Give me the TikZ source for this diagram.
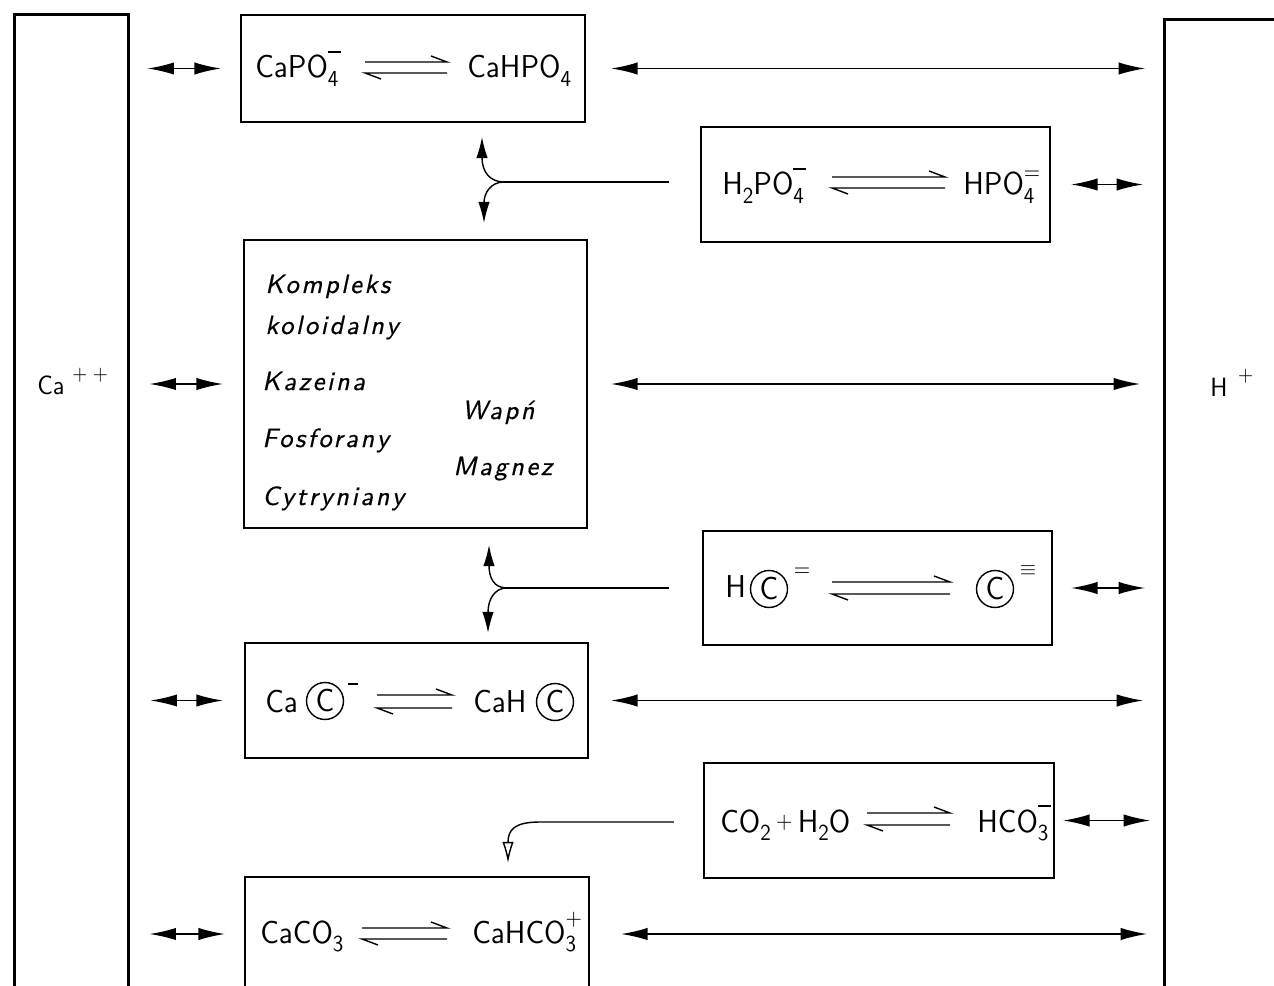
\documentclass[tikz,border=0pt]{standalone}
\usepackage{fontspec}
\newfontfamily\chemf{lmsans10-regular.otf}[FakeStretch=0.92]
\newfontfamily\itf{lmsans10-oblique.otf}[LetterSpace=10,FakeBold=0.6]
\usetikzlibrary{arrows.meta}
\newcommand\chemtext{\chemf\fontsize{18}{20}\selectfont}
\newcommand\ittext{\itf\fontsize{15}{18}\selectfont}
\newcommand\Sb[1]{\raisebox{-0.27em}{\fontsize{13}{13}\selectfont #1}}
\newcommand\SbSp[3][0.5em]{\makebox[0pt][l]{\raisebox{#1}{\fontsize{13}{13}\selectfont #3}}\raisebox{-0.27em}{\fontsize{13}{13}\selectfont #2}}
\newcommand\Mn{\rule{0.55em}{0.08em}}
\newcommand\Harp[4]{%
  \draw[harp] (#1,#3) -- (#2,#3) -- ++(-16,-6);
  \draw[harp] (#2,#4) -- (#1,#4) -- ++(16,6);}
\tikzset{
  box/.style={draw, line width=1.4pt, inner sep=0},
  col/.style={draw, line width=1.5pt, inner sep=0},
  chem/.style={font=\chemtext, inner sep=0, anchor=base west},
  itx/.style={font=\ittext, inner sep=0, anchor=base west},
  lab/.style={font=\chemf\fontsize{15}{18}\selectfont, inner sep=0, anchor=base west},
  supx/.style={font=\chemf\fontsize{13}{13}\selectfont, inner sep=0},
  cc/.style={circle, draw, line width=0.8pt, minimum size=0.74cm, inner sep=0, font=\chemtext},
  harp/.style={line width=0.8pt},
  ln/.style={line width=0.8pt},
  dbl/.style={{Latex[length=15pt,width=7pt]}-{Latex[length=15pt,width=7pt]}, line width=0.8pt},
  fork/.style={-{Latex[length=12pt,width=6.5pt]}, line width=0.8pt},
  forko/.style={-{Latex[length=12pt,width=6.5pt,open]}, line width=0.8pt},
}
\begin{document}
\begin{tikzpicture}[x=0.02cm,y=-0.02cm]
\clip (0,0) rectangle (1274,986);
\fill[white] (0,0) rectangle (1274,986);
% columns
\node[col, anchor=north west, minimum width=2.28cm, minimum height=20cm] (cal) at (13,13) {};
\node[col, anchor=north west, minimum width=3cm, minimum height=20cm] (hp) at (1163,18) {};
\node[lab] (ca) at (37,395) {Ca\hspace{0.3em}\raisebox{0.55em}{\fontsize{12}{12}\selectfont +\hspace{0.25em}+}};
\node[lab] (hplus) at (1210,397) {H\hspace{0.4em}\raisebox{0.6em}{\fontsize{12}{12}\selectfont +}};
% boxes
\node[box, minimum width=6.88cm, minimum height=2.14cm] (b1) at (413,68.5) {};
\node[box, minimum width=6.98cm, minimum height=2.30cm] (b2) at (875.5,184.5) {};
\node[box, minimum width=6.86cm, minimum height=5.76cm] (b3) at (415.5,384) {};
\node[box, minimum width=6.98cm, minimum height=2.28cm] (b4) at (877.5,588) {};
\node[box, minimum width=6.86cm, minimum height=2.30cm] (b5) at (416.5,700.5) {};
\node[box, minimum width=7.00cm, minimum height=2.30cm] (b6) at (879,820.5) {};
\node[box, minimum width=6.88cm, minimum height=3.12cm] (b7) at (417,955) {};
\coordinate (b7t) at (417,934);
% texts
\node[chem] (t1a) at (255,78) {CaPO\SbSp[0.8em]{4}{\Mn}};
\node[chem] (t1b) at (467,78) {CaHPO\Sb{4}};
\Harp{365}{447}{62}{73}
\node[chem] (t2a) at (722,195) {H\Sb{2}PO\SbSp[0.8em]{4}{\Mn}};
\node[chem] (t2b) at (963,195) {HPO\SbSp[0.5em]{4}{=}};
\Harp{832}{945}{177}{188}
\node[chem] (t4a) at (725,597) {H};
\node[cc] (c4a) at (769,589) {C};
\node[supx] (s4a) at (802,572) {=};
\node[cc] (c4b) at (995,589) {C};
\node[supx] (s4b) at (1028,571) {$\equiv$};
\Harp{832}{950}{582}{594}
\node[chem] (t5a) at (265,712) {Ca};
\node[cc] (c5a) at (325,701) {C};
\node[inner sep=0] (s5a) at (353,684) {\rule{0.2cm}{0.035cm}};
\node[chem] (t5b) at (473,712) {CaH};
\node[cc] (c5b) at (555,702) {C};
\Harp{377}{452}{695}{708}
\node[chem] (t6a) at (720,832) {CO\Sb{2}\,\raisebox{0.1em}{\fontsize{13}{13}\selectfont +}\,H\Sb{2}O};
\node[chem] (t6b) at (977,832) {HCO\SbSp[0.8em]{3}{\Mn}};
\Harp{867}{950}{813}{825}
\node[chem] (t7a) at (260,943) {CaCO\Sb{3}};
\node[chem] (t7b) at (472,943) {CaHCO\SbSp[0.55em]{3}{+}};
\Harp{362}{447}{928}{939}
% middle box text
\node[itx] (k1) at (265,293) {Kompleks};
\node[itx] (k2) at (265,334) {koloidalny};
\node[itx] (k3) at (262,390) {Kazeina};
\node[itx] (k4) at (262,447) {Fosforany};
\node[itx] (k5) at (262,505) {Cytryniany};
\node[itx] (k6) at (462,419) {Wapń};
\node[itx] (k7) at (453,475) {Magnez};
% left arrows
\draw[dbl, shorten <=0.36cm, shorten >=0.38cm] (cal.east |- b1.west) -- (b1.west);
\draw[dbl, shorten <=0.40cm, shorten >=0.40cm] (cal.east |- b3.west) -- (b3.west);
\draw[dbl, shorten <=0.42cm, shorten >=0.42cm] (cal.east |- b5.west) -- (b5.west);
\draw[dbl, shorten <=0.40cm, shorten >=0.38cm] (cal.east |- b7t) -- (b7.west |- b7t);
% right long arrows
\draw[dbl, shorten <=0.50cm, shorten >=0.36cm] (b1.east) -- (hp.west |- b1.east);
\draw[dbl, shorten <=0.46cm, shorten >=0.46cm] (b3.east) -- (hp.west |- b3.east);
\draw[dbl, shorten <=0.44cm, shorten >=0.40cm] (b5.east) -- (hp.west |- b5.east);
\draw[dbl, shorten <=0.62cm, shorten >=0.32cm] (b7.east |- b7t) -- (hp.west |- b7t);
% right short arrows
\draw[dbl, shorten <=0.40cm, shorten >=0.40cm] (b2.east) -- (hp.west |- b2.east);
\draw[dbl, shorten <=0.36cm, shorten >=0.36cm] (b4.east) -- (hp.west |- b4.east);
\draw[dbl, shorten <=0.16cm, shorten >=0.26cm] (b6.east) -- (hp.west |- b6.east);
% forks
\coordinate (j1) at (504,182);
\draw[ln, shorten <=0.62cm] (b2.west |- j1) -- (j1);
\draw[fork] (j1) .. controls (490,182) and (482,172) .. (482,137);
\draw[fork] (j1) .. controls (490,182) and (484,194) .. (484,223);
\coordinate (j2) at (507,588);
\draw[ln, shorten <=0.66cm] (b4.west |- j2) -- (j2);
\draw[fork] (j2) .. controls (494,588) and (489,578) .. (489,545);
\draw[fork] (j2) .. controls (494,588) and (488,600) .. (488,633);
\coordinate (j3) at (540,822);
\draw[forko, shorten <=0.58cm] (b6.west |- j3) -- (j3) .. controls (514,822) and (508,830) .. (508,863);
\end{tikzpicture}
\end{document}
